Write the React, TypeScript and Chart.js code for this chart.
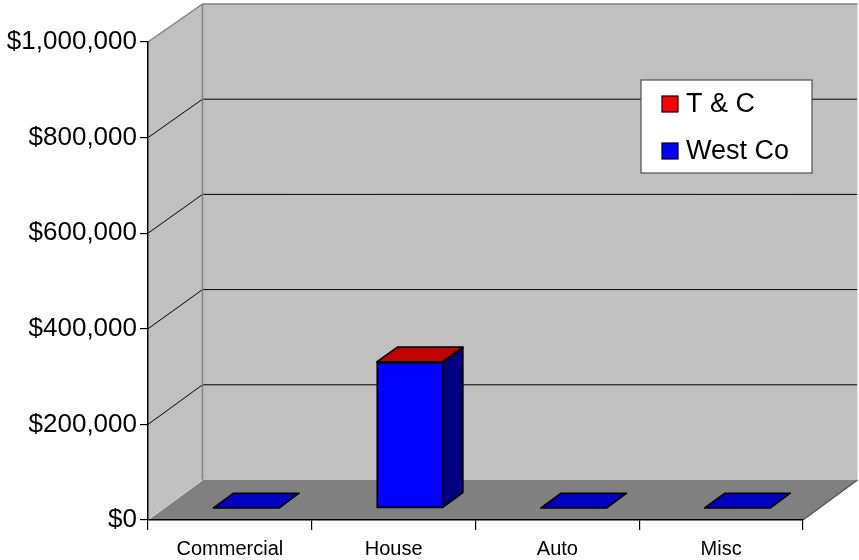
import React, { useEffect, useRef } from 'react';
import { Chart, registerables } from 'chart.js';

Chart.register(...registerables);

// ---- data ----
const categories = ['Commercial', 'House', 'Auto', 'Misc'];
const westCoValues = [0, 305000, 0, 0];
const tcValues = [0, 1500, 0, 0];
const seriesNames = ['West Co', 'T & C'];
const yTickValues = [0, 200000, 400000, 600000, 800000, 1000000];

// ---- styling ----
const FONT = "'Liberation Sans', Arial, Helvetica, sans-serif";
const DEPTH_DX = 54.5;
const DEPTH_DY_BOTTOM = -40;
const DEPTH_DY_TOP = -38;
const BAR_D1 = 0.3;
const BAR_D2 = 0.67;
const WALL = '#C0C0C0';
const FLOOR = '#808080';
const EDGE = '#808080';

const seriesStyles = [
  { front: '#0000FF', side: '#000080', top: '#0000C0', legend: '#0000FF' },
  { front: '#FF0000', side: '#800000', top: '#C00000', legend: '#FF0000' },
];

function proj(ca: any, x: number, y: number, d: number): [number, number] {
  const f = (ca.bottom - y) / (ca.bottom - ca.top);
  const dy = DEPTH_DY_BOTTOM + (DEPTH_DY_TOP - DEPTH_DY_BOTTOM) * f;
  return [x + d * DEPTH_DX, y + d * dy];
}

function poly(ctx: CanvasRenderingContext2D, pts: [number, number][], fill?: string, stroke?: string, lw = 1) {
  ctx.beginPath();
  pts.forEach((p, i) => (i === 0 ? ctx.moveTo(p[0], p[1]) : ctx.lineTo(p[0], p[1])));
  ctx.closePath();
  if (fill) {
    ctx.fillStyle = fill;
    ctx.fill();
  }
  if (stroke) {
    ctx.strokeStyle = stroke;
    ctx.lineWidth = lw;
    ctx.stroke();
  }
}

function line(ctx: CanvasRenderingContext2D, a: [number, number], b: [number, number], color: string, lw = 1) {
  ctx.beginPath();
  ctx.moveTo(a[0], a[1]);
  ctx.lineTo(b[0], b[1]);
  ctx.strokeStyle = color;
  ctx.lineWidth = lw;
  ctx.stroke();
}

const wallsPlugin = {
  id: 'walls3d',
  beforeDraw(chart: any) {
    const { ctx, chartArea: ca } = chart;
    const ys = chart.scales.y;
    const yMax = ys.getPixelForValue(ys.max);
    const yMin = ys.getPixelForValue(ys.min);
    const L = ca.left;
    const R = ca.right;
    ctx.save();
    // left wall
    poly(ctx, [proj(ca, L, yMax, 0), proj(ca, L, yMax, 1), proj(ca, L, yMin, 1), proj(ca, L, yMin, 0)], WALL);
    // back wall
    poly(ctx, [proj(ca, L, yMax, 1), proj(ca, R, yMax, 1), proj(ca, R, yMin, 1), proj(ca, L, yMin, 1)], WALL);
    // gridlines
    ys.ticks.forEach((t: any) => {
      if (t.value <= ys.min || t.value >= ys.max) return;
      const y = ys.getPixelForValue(t.value);
      line(ctx, proj(ca, L, y, 0), proj(ca, L, y, 1), '#000000', 1);
      line(ctx, proj(ca, L, y, 1), proj(ca, R, y, 1), '#000000', 1);
    });
    // wall edges
    line(ctx, proj(ca, L, yMax, 0), proj(ca, L, yMax, 1), EDGE, 1.5);
    line(ctx, proj(ca, L, yMax, 1), proj(ca, R, yMax, 1), EDGE, 1.5);
    line(ctx, proj(ca, L, yMax, 1), proj(ca, L, yMin, 1), EDGE, 1.5);
    line(ctx, proj(ca, R, yMax, 1), proj(ca, R, yMin, 1), '#E0E0E0', 1);
    // floor
    poly(ctx, [proj(ca, L, yMin, 0), proj(ca, L, yMin, 1), proj(ca, R, yMin, 1), proj(ca, R, yMin, 0)], FLOOR);
    line(ctx, proj(ca, L, yMin, 0), proj(ca, L, yMin, 1), '#D8D8D8', 1);
    line(ctx, proj(ca, R, yMin, 0), proj(ca, R, yMin, 1), '#505050', 1.2);
    ctx.restore();
  },
  afterDatasetsDraw(chart: any) {
    const { ctx, chartArea: ca } = chart;
    ctx.save();
    ctx.lineJoin = 'round';
    const n = chart.data.labels.length;
    for (let i = 0; i < n; i++) {
      chart.data.datasets.forEach((ds: any, di: number) => {
        const v = ds.data[i];
        if (!(v > 0) && di !== 0) return;
        const el = chart.getDatasetMeta(di).data[i];
        if (!el) return;
        const st = seriesStyles[di];
        const x0 = el.x - el.width / 2;
        const x1 = el.x + el.width / 2;
        const top = Math.min(el.y, el.base);
        const base = Math.max(el.y, el.base);
        const lw = 1.6;
        if (base - top > 0.01) {
          poly(ctx, [proj(ca, x0, top, BAR_D1), proj(ca, x1, top, BAR_D1), proj(ca, x1, base, BAR_D1), proj(ca, x0, base, BAR_D1)], st.front, '#000', lw);
          poly(ctx, [proj(ca, x1, top, BAR_D1), proj(ca, x1, top, BAR_D2), proj(ca, x1, base, BAR_D2), proj(ca, x1, base, BAR_D1)], st.side, '#000', lw);
        }
        poly(ctx, [proj(ca, x0, top, BAR_D1), proj(ca, x1, top, BAR_D1), proj(ca, x1, top, BAR_D2), proj(ca, x0, top, BAR_D2)], st.top, '#000', lw);
      });
    }
    ctx.restore();
  },
  afterDraw(chart: any) {
    const { ctx } = chart;
    const bx = 641, by = 80, bw = 171, bh = 93;
    ctx.save();
    ctx.fillStyle = '#FFFFFF';
    ctx.fillRect(bx, by, bw, bh);
    ctx.strokeStyle = '#505050';
    ctx.lineWidth = 1.2;
    ctx.strokeRect(bx, by, bw, bh);
    const items = chart.data.datasets.map((ds: any, di: number) => ({ label: ds.label, color: seriesStyles[di].legend })).reverse();
    ctx.font = `27px ${FONT}`;
    ctx.textBaseline = 'middle';
    ctx.textAlign = 'left';
    items.forEach((it: any, k: number) => {
      const cy = by + 24 + k * 47;
      ctx.fillStyle = it.color;
      ctx.fillRect(bx + 21, cy - 8, 16, 16);
      ctx.strokeStyle = '#000';
      ctx.lineWidth = 1.2;
      ctx.strokeRect(bx + 21, cy - 8, 16, 16);
      ctx.fillStyle = '#000';
      ctx.fillText(it.label, bx + 45, cy + 1);
    });
    ctx.restore();
  },
};

export default function App() {
  const canvasRef = useRef<HTMLCanvasElement | null>(null);

  useEffect(() => {
    if (!canvasRef.current) return;
    Chart.defaults.font.family = FONT;
    const chart = new Chart(canvasRef.current, {
      type: 'bar',
      data: {
        labels: categories,
        datasets: [
          { label: seriesNames[0], data: westCoValues, backgroundColor: 'rgba(0,0,0,0)', borderWidth: 0, stack: 's' },
          { label: seriesNames[1], data: tcValues, backgroundColor: 'rgba(0,0,0,0)', borderWidth: 0, stack: 's' },
        ],
      },
      options: {
        animation: false,
        responsive: false,
        layout: { padding: { left: 0, top: 42, right: 56, bottom: 0 } },
        datasets: { bar: { categoryPercentage: 1, barPercentage: 0.4 } },
        plugins: { legend: { display: false }, tooltip: { enabled: false } },
        scales: {
          x: {
            stacked: true,
            grid: { offset: true, drawOnChartArea: false, drawTicks: true, tickLength: 10, color: '#000', lineWidth: 1.2 },
            border: { display: true, color: '#000', width: 1.5 },
            ticks: { color: '#000', font: { size: 20, family: FONT }, padding: 7, maxRotation: 0, autoSkip: false },
            afterFit: (s: any) => { s.height = 40; },
          },
          y: {
            stacked: true,
            min: 0,
            max: 1000000,
            afterBuildTicks: (s: any) => { s.ticks = yTickValues.map((v) => ({ value: v })); },
            grid: { drawOnChartArea: false, drawTicks: true, tickLength: 8, color: '#000', lineWidth: 1.2 },
            border: { display: true, color: '#000', width: 1.5 },
            ticks: {
              color: '#000',
              font: { size: 26, family: FONT },
              padding: 3,
              callback: (v: any) => '$' + Number(v).toLocaleString('en-US'),
            },
            afterFit: (s: any) => { s.width = 148; },
          },
        },
      },
      plugins: [wallsPlugin],
    });
    return () => chart.destroy();
  }, []);

  return (
    <canvas
      ref={canvasRef}
      width={859}
      height={560}
      style={{ position: 'absolute', left: 0, top: 0, width: 859, height: 560, display: 'block' }}
    />
  );
}
